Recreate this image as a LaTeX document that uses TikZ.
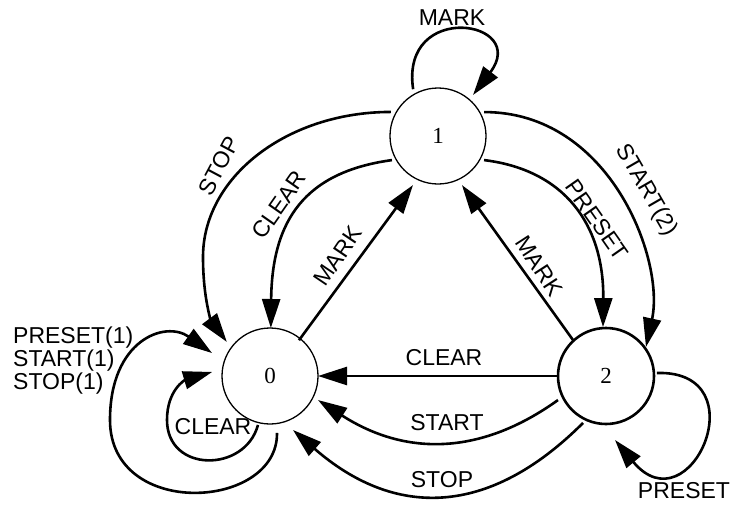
\documentclass[tikz,border=0pt]{standalone}
\usepackage{fontspec}
\setmainfont{Liberation Serif}
\setsansfont{Liberation Sans}
\usetikzlibrary{arrows.meta,calc}
\begin{document}
\begin{tikzpicture}[x=1pt,y=-1pt,
  state/.style={circle,draw,minimum size=96pt,inner sep=0pt,outer sep=0pt,
    line width=1.3pt,font=\fontsize{23}{23}\selectfont},
  trans/.style={line width=2.6pt,-{Triangle[length=29pt,width=18pt]}},
  lbl/.style={font=\sffamily\fontsize{23}{23}\selectfont,inner sep=0pt}]
\useasboundingbox (0,0) rectangle (734,504);

% states
\node[state] (n1) at (438,136) {1};
\node[state] (n0) at (270,376) {0};
\node[state,line width=2.6pt] (n2) at (606,376) {2};

% transitions leaving state 1
\draw[trans] ($(n1)+(118:53pt)$) .. controls (400,0) and (530,20) .. ($(n1)+(49.5:54pt)$);
\draw[trans] ($(n1)+(153:53pt)$) .. controls (287,112) and (203,177) .. (203,257)
  .. controls (203,300) and (212,322) .. ($(n0)+(141.7:55pt)$);
\draw[trans] ($(n1)+(207.6:52pt)$) .. controls (305,172) and (272,220) .. ($(n0)+(89:48pt)$);
\draw[trans] ($(n1)+(27.4:52pt)$) .. controls (610,112) and (665,260) .. ($(n2)+(36:49.4pt)$);
\draw[trans] ($(n1)+(-27.6:52pt)$) .. controls (565,170) and (604,225) .. ($(n2)+(93.5:49pt)$);

% transitions into state 1
\draw[trans] ($(n0)+(51:46pt)$) -- ($(n1)+(243:55pt)$);
\draw[trans] ($(n2)+(132.5:49pt)$) -- ($(n1)+(296:54.6pt)$);

% transitions from state 2 to state 0
\draw[trans] (n2.west) -- (n0.east);
\draw[trans] ($(n2)+(206.6:53.7pt)$) .. controls (480,456) and (405,456) .. ($(n0)+(-26.6:53.7pt)$);
\draw[trans] ($(n2)+(243.9:52.3pt)$) .. controls (488,518) and (394,518) .. ($(n0)+(-66.9:58.7pt)$);

% self loops
\draw[trans] ($(n2)+(3.4:51pt)$) .. controls (760,370) and (690,530) .. ($(n2)+(-82:64.6pt)$);
\draw[trans] ($(n0)+(-83:57.4pt)$) .. controls (278,510) and (110,520) .. (110,420)
  .. controls (110,340) and (165,320) .. ($(n0)+(158.4:62.4pt)$);
\draw[trans] ($(n0)+(-103.8:50.4pt)$) .. controls (245,473) and (167,473) .. (167,420)
  .. controls (167,390) and (185,380) .. ($(n0)+(176:58pt)$);

% labels
\node[lbl] (lmark1) at (452,18) {MARK};
\node[lbl,rotate=62] (lstop1) at (219,166) {STOP};
\node[lbl,rotate=55] (lclear1) at (279,205) {CLEAR};
\node[lbl,rotate=56] (lmark0) at (338,256) {MARK};
\node[lbl,rotate=-57] (lmark2) at (539,266) {MARK};
\node[lbl,rotate=-55] (lpreset1) at (597,220) {PRESET};
\node[lbl,rotate=-60] (lstart1) at (646,190) {START(2)};
\node[lbl] (lclear2) at (444,358) {CLEAR};
\node[lbl] (lstart2) at (447,423) {START};
\node[lbl] (lstop2) at (442,480) {STOP};
\node[lbl] (lpreset2) at (684,491) {PRESET};
\node[lbl] (lclear0) at (213,427) {CLEAR};
\node[lbl,align=left,anchor=north west] (lloop0) at (13,327) {PRESET(1)\\START(1)\\STOP(1)};
\end{tikzpicture}
\end{document}
